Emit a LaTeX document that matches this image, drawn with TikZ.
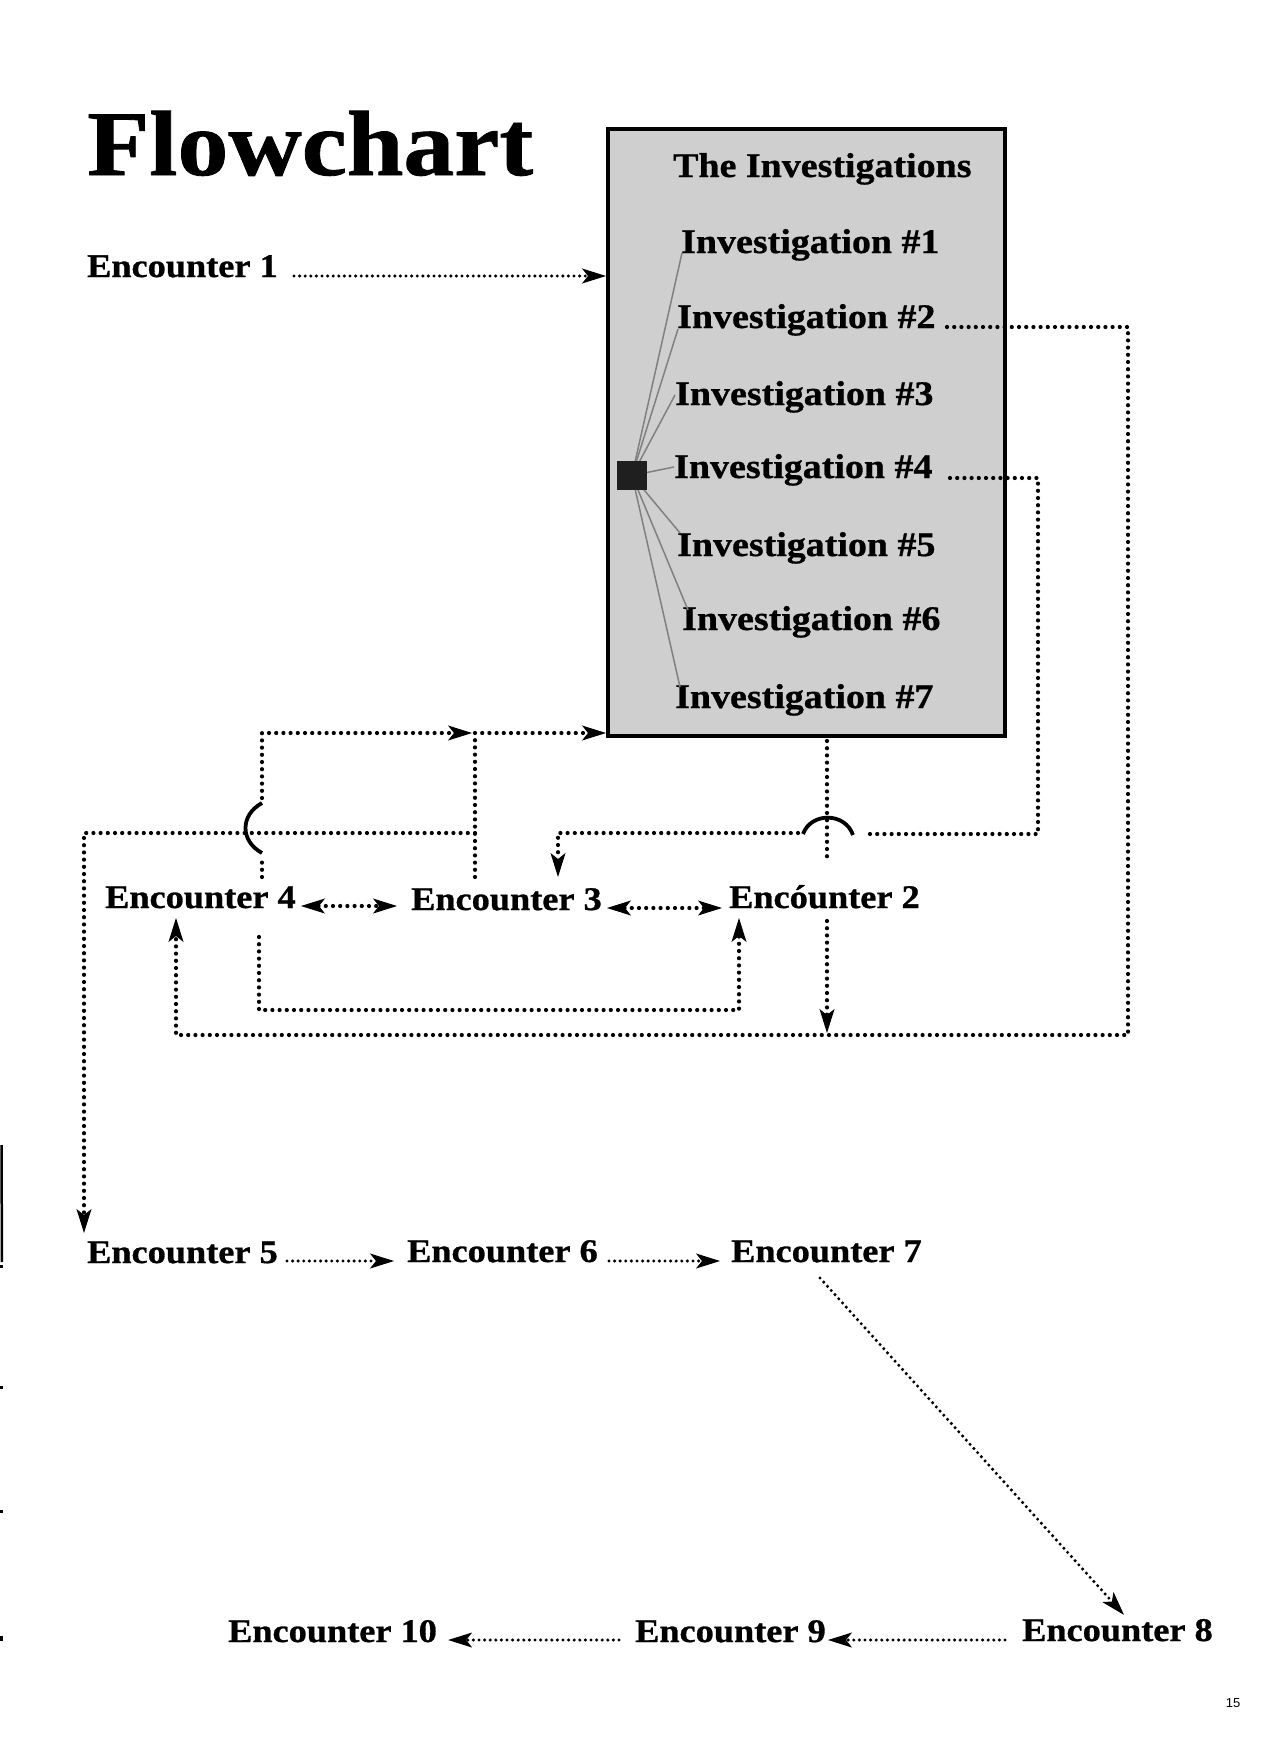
\documentclass[tikz,border=0pt]{standalone}
\usepackage{fontspec}
\setmainfont{Liberation Serif}[FakeStretch=1.1, BoldFeatures={FakeBold=0.9}]
\newfontfamily\pagefont{Liberation Sans}
\usetikzlibrary{arrows.meta,calc}
\tikzset{
  enc/.style={anchor=base west, inner sep=0pt, font=\bfseries\fontsize{33}{40}\selectfont},
  inv/.style={anchor=base west, inner sep=0pt, font=\bfseries\fontsize{34.5}{40}\selectfont},
  dotl/.style={line width=4.2pt, line cap=round, dash pattern=on 0pt off 7.2pt},
  fdot/.style={line width=3.4pt, line cap=round, dash pattern=on 0pt off 5.6pt},
  hop/.style={line width=3.8pt},
  spoke/.style={line width=1.5pt, draw=black!50},
  >={Stealth[length=24pt,width=15pt,inset=6pt,line width=1pt]}
}
\begin{document}
\begin{tikzpicture}[x=1pt,y=-1pt]
\useasboundingbox (0,0) rectangle (1280,1740);

% title
\node[anchor=base west, inner sep=0pt, font=\bfseries\fontsize{92.4}{100}\selectfont] (title) at (87,175) {Flowchart};

% investigations box
\node[draw, line width=3.6pt, fill=black!19, minimum width=397pt, minimum height=607pt,
      inner sep=0pt, anchor=north west] (box) at (606,127) {};
\node[inv] (head) at (673,177) {The Investigations};
\node[inv] (inv1) at (681,253) {Investigation \#1};
\node[inv] (inv2) at (677,328) {Investigation \#2};
\node[inv] (inv3) at (675,405) {Investigation \#3};
\node[inv] (inv4) at (674,478) {Investigation \#4};
\node[inv] (inv5) at (677,556) {Investigation \#5};
\node[inv] (inv6) at (682,630) {Investigation \#6};
\node[inv] (inv7) at (675,708) {Investigation \#7};

% spokes from hub
\coordinate (hubc) at (632,475.5);
\draw[spoke] (hubc) -- ($(inv1.base west)+(1,0)$);
\draw[spoke] (hubc) -- ($(inv2.base west)+(1,1)$);
\draw[spoke] (hubc) -- ($(inv3.base west)+(0,-10)$);
\draw[spoke] (hubc) -- ($(inv4.base west)+(0,-11)$);
\draw[spoke] (hubc) -- ($(inv5.base west)+(3,-23)$);
\draw[spoke] (hubc) -- ($(inv6.base west)+(6,-20)$);
\draw[spoke] (hubc) -- ($(inv7.base west)+(5,-21)$);
\node[fill=black!88, minimum width=30pt, minimum height=29pt, inner sep=0pt] (hub) at (hubc) {};

% encounters
\node[enc] (e1) at (87,277) {Encounter 1};
\node[enc] (e4) at (105,908) {Encounter 4};
\node[enc] (e3) at (411,910) {Encounter 3};
\node[enc] (e2) at (729,908) {Encóunter 2};
\node[enc] (e5) at (87,1263) {Encounter 5};
\node[enc] (e6) at (407,1262) {Encounter 6};
\node[enc] (e7) at (731,1262) {Encounter 7};
\node[enc] (e10) at (228,1642) {Encounter 10};
\node[enc] (e9) at (635,1642) {Encounter 9};
\node[enc] (e8) at (1022,1641) {Encounter 8};

\node[anchor=center, inner sep=0pt, font=\pagefont\fontsize{13}{15}\selectfont] (pg) at (1233,1703) {15};

% named connector points
\coordinate (e1a) at (294,276);   \coordinate (e1b) at (606,276);
\coordinate (i2a) at (947,327);   \coordinate (i2b) at (1128,327);
\coordinate (i2c) at (1128,1035); \coordinate (i2d) at (176,1035);
\coordinate (e4bot) at (176,918);
\coordinate (i4a) at (950,478);   \coordinate (i4b) at (1038,478);
\coordinate (i4c) at (1038,834);  \coordinate (i4d) at (865,834);
\coordinate (h2a) at (853,835);   \coordinate (h2b) at (803,834);
\coordinate (i4e) at (798,833);   \coordinate (i4f) at (558,833);
\coordinate (e3top) at (558,877);
\coordinate (bxa) at (827,741);   \coordinate (bxb) at (827,857);
\coordinate (e2a) at (827,921);   \coordinate (e2b) at (827,1033);
\coordinate (e4a) at (259,937);   \coordinate (e4b) at (259,1010);
\coordinate (e4c) at (739,1010);  \coordinate (e2bot) at (739,918);
\coordinate (v4a) at (262,877);   \coordinate (v4b) at (262,857);
\coordinate (h1a) at (262,853);   \coordinate (h1b) at (262,803);
\coordinate (v4c) at (262,798);   \coordinate (v4d) at (262,733);
\coordinate (jn) at (475,733);
\coordinate (v3a) at (475,877);   \coordinate (bxl) at (606,733);
\coordinate (br) at (475,833);    \coordinate (lf) at (84,833);
\coordinate (e5top) at (84,1233);

% connectors
\draw[fdot,->] (e1a) -- (e1b);
\draw[dotl,->] (i2a) -- (i2b) -- (i2c) -- (i2d) -- (e4bot);
\draw[dotl] (i4a) -- (i4b) -- (i4c) -- (i4d);
\draw[hop] (h2a) .. controls (845,812) and (811,812) .. (h2b);
\draw[dotl,->] (i4e) -- (i4f) -- (e3top);
\draw[dotl] (bxa) -- (bxb);
\draw[dotl,->] (e2a) -- (e2b);
\draw[dotl,->] (e4a) -- (e4b) -- (e4c) -- (e2bot);
\draw[dotl] (v4a) -- (v4b);
\draw[hop] (h1a) .. controls (240,841) and (240,815) .. (h1b);
\draw[dotl,->] (v4c) -- (v4d) -- ($(jn)+(-3,0)$);
\draw[dotl,->] (v3a) -- (jn) -- (bxl);
\draw[dotl,->] (br) -- (lf) -- (e5top);
\draw[dotl,<->] ($(e4.base east)+(5,-2)$) -- ($(e3.base west)+(-14,-4)$);
\draw[dotl,<->] ($(e3.base east)+(5,-2)$) -- ($(e2.base west)+(-7,0)$);
\draw[fdot,->] ($(e5.base east)+(9,-2)$) -- ($(e6.base west)+(-13,-1)$);
\draw[fdot,->] ($(e6.base east)+(11,-1)$) -- ($(e7.base west)+(-11,-1)$);
\draw[fdot,->] (820,1278) -- ($(e8.north west)+(102,-4)$);
\draw[fdot,->] ($(e8.base west)+(-17,-1)$) -- ($(e9.base east)+(2,-2)$);
\draw[fdot,->] ($(e9.base west)+(-16,-2)$) -- ($(e10.base east)+(11,-2)$);

% scan marks at the left edge
\draw[line width=2.5pt] (1.5,1145) -- (2,1262);
\fill (0,1265) rectangle (3,1268);
\fill (0,1386) rectangle (3,1389);
\fill (0,1510) rectangle (3,1513);
\fill (0,1636) rectangle (3,1641);
\end{tikzpicture}
\end{document}
